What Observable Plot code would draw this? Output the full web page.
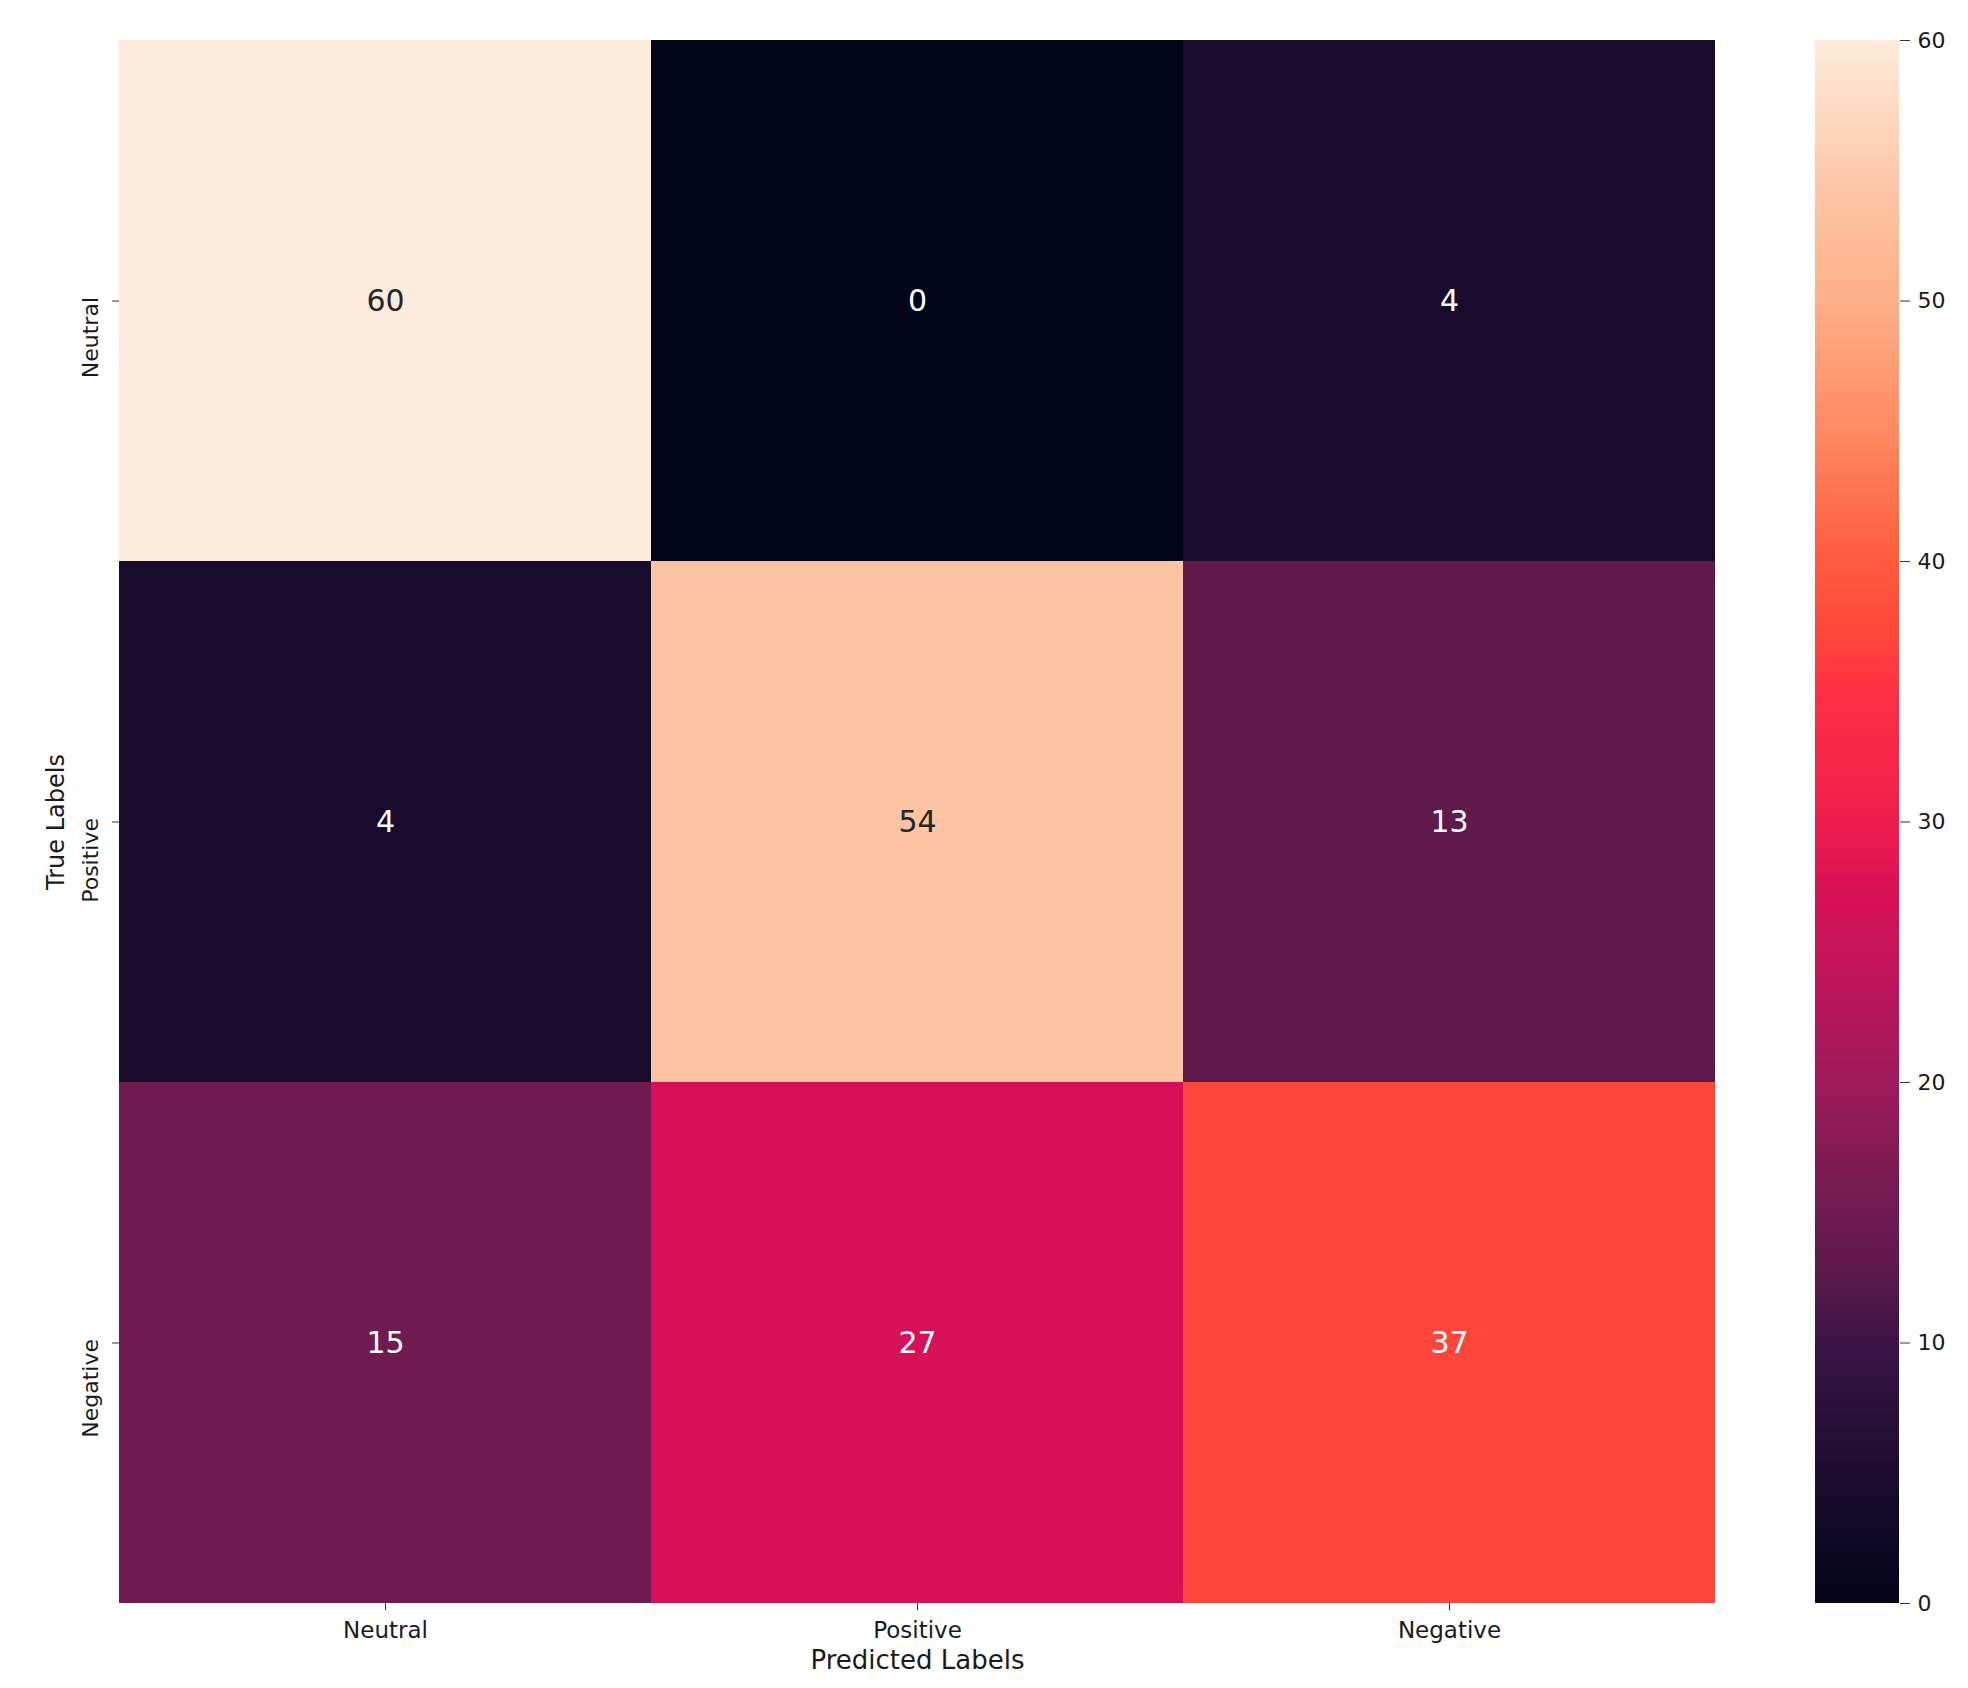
<!DOCTYPE html>
<html>
<head>
<meta charset="utf-8">
<script src="https://cdn.jsdelivr.net/npm/d3@7"></script>
<script src="https://cdn.jsdelivr.net/npm/@observablehq/plot@0.6"></script>
<style>
  html, body { margin: 0; padding: 0; background: white; }
  #wrap { position: relative; width: 1968px; height: 1688px; background: white; }
  #main { position: absolute; left: 0; top: 0; }
  #cbar { position: absolute; left: 1760px; top: 0; }
</style>
</head>
<body>
<div id="wrap"><div id="main"></div><div id="cbar"></div></div>
<script>
// ---- data ----
const labels = ["Neutral", "Positive", "Negative"];          // categories (true & predicted)
const counts = [                                               // rows = true, cols = predicted
  [60, 0, 4],
  [4, 54, 13],
  [15, 27, 37]
];
const colorbarTicks = [0, 10, 20, 30, 40, 50, 60];
const xTitle = "Predicted Labels";
const yTitle = "True Labels";

// ---- colour ramp (rocket-like, as seen in the picture) ----
const stopValues = [0, 4, 10, 13, 15, 20, 27, 30, 35, 37, 40, 45, 50, 54, 60];
const stopColors = ["#03051a", "#160b2b", "#3b1544", "#5f1a4b", "#6f1a50", "#9e1a5b",
                    "#d61157", "#ef1d4d", "#ff2f44", "#ff463c", "#ff5a3d", "#ff8a62",
                    "#feb088", "#fdc4a3", "#fdebdc"];
const ramp = d3.scaleLinear().domain(stopValues).range(stopColors).interpolate(d3.interpolateRgb);
const colorScale = {type: "linear", domain: [0, 60], interpolate: t => ramp(t * 60)};

const cells = [];
counts.forEach((row, i) => row.forEach((v, j) => cells.push({yt: labels[i], xp: labels[j], value: v})));

const font = "DejaVu Sans";

const main = Plot.plot({
  width: 1760,
  height: 1688,
  marginLeft: 119,
  marginRight: 45,
  marginTop: 40,
  marginBottom: 85,
  style: {fontFamily: font, fontSize: "23px", color: "#1a1a1a", background: "transparent"},
  x: {domain: labels, padding: 0, axis: null},
  y: {domain: labels, padding: 0, axis: null},
  color: colorScale,
  marks: [
    Plot.cell(cells, {x: "xp", y: "yt", fill: "value", inset: 0}),
    Plot.text(cells.filter(d => d.value >= 45), {x: "xp", y: "yt", text: d => String(d.value), fill: "#262626", fontSize: 30}),
    Plot.text(cells.filter(d => d.value < 45), {x: "xp", y: "yt", text: d => String(d.value), fill: "white", fontSize: 30}),
    Plot.axisX({anchor: "bottom", tickSize: 7, tickPadding: 11, fontSize: 23, label: null, stroke: "#333"}),
    Plot.axisY({anchor: "left", tickSize: 7, tickFormat: () => "", label: null, stroke: "#333"}),
    Plot.text(labels, {y: d => d, frameAnchor: "left", rotate: -90, textAnchor: "end", lineAnchor: "bottom", dx: -22, dy: -4, fontSize: 22, fill: "#1a1a1a"}),
    Plot.text([xTitle], {frameAnchor: "bottom", lineAnchor: "top", dy: 47, fontSize: 26, fill: "#1a1a1a"}),
    Plot.text([yTitle], {frameAnchor: "left", rotate: -90, textAnchor: "middle", lineAnchor: "bottom", dx: -56, fontSize: 24, fill: "#1a1a1a"})
  ]
});
document.getElementById("main").appendChild(main);

// colour bar
const step = 0.1;
const rampSteps = d3.range(0, 60, step);
const cbar = Plot.plot({
  width: 208,
  height: 1688,
  marginLeft: 55,
  marginRight: 69,
  marginTop: 40,
  marginBottom: 85,
  style: {fontFamily: font, fontSize: "22px", color: "#1a1a1a", background: "transparent"},
  y: {domain: [0, 60], axis: null},
  color: colorScale,
  marks: [
    Plot.rect(rampSteps, {y1: d => d, y2: d => Math.min(60, d + 2 * step), fill: d => d + step / 2, inset: 0}),
    Plot.axisY({anchor: "right", ticks: colorbarTicks, tickSize: 10, tickPadding: 8, fontSize: 22, label: null, stroke: "#333"})
  ]
});
document.getElementById("cbar").appendChild(cbar);
</script>
</body>
</html>
